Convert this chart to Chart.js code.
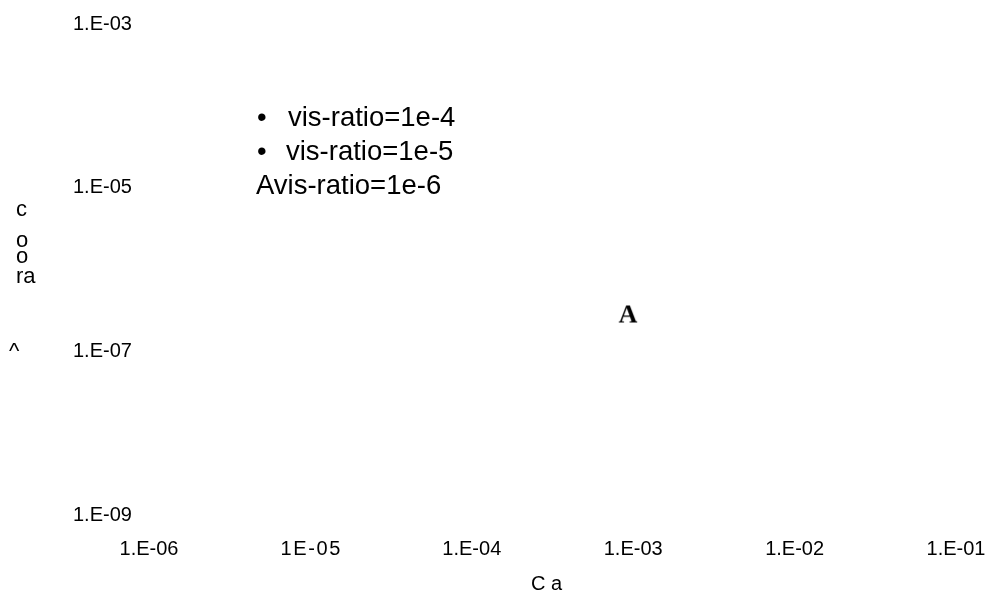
<!DOCTYPE html>
<html>
<head>
  <meta charset="utf-8" />
  <title>vis-ratio</title>
  <script src="https://cdn.jsdelivr.net/npm/chart.js"></script>
  <style>
    html, body { margin: 0; padding: 0; background: #fff; }
    #wrap { width: 986px; height: 608px; }
  </style>
</head>
<body>
  <div id="wrap"><canvas id="chart"></canvas></div>

  <script>
    // axis ticks (log scales, decades)
    const xTicks = [1e-6, 1e-5, 1e-4, 1e-3, 1e-2, 1e-1];
    const xTickLabels = ['1.E-06', '1\u200AE\u200A-\u200A0\u200A5', '1.E-04', '1.E-03', '1.E-02', '1.E-01'];
    const yTicks = [1e-9, 1e-7, 1e-5, 1e-3];
    const yTickLabels = ['1.E-09', '1.E-07', '1.E-05', '1.E-03'];

    // series
    const seriesLabels = ['vis-ratio=1e-4', 'vis-ratio=1e-5', 'vis-ratio=1e-6'];
    const seriesGlyphs = ['\u2022', '\u2022', 'A'];
    const ratio4X = [];
    const ratio4Y = [];
    const ratio5X = [];
    const ratio5Y = [];
    const ratio6X = [9.3e-4];
    const ratio6Y = [2.9e-7];

    const xTitle = 'C a\u2009\u2009\u2009';
    const yTitleParts = ['c', 'o', 'o', 'ra', '^'];

    function toPoints(xs, ys) {
      return xs.map((x, i) => ({ x: x, y: ys[i] }));
    }

    // glyph marker for the 1e-6 series
    function glyphMarker(ch) {
      const c = document.createElement('canvas');
      c.width = 34; c.height = 34;
      const g = c.getContext('2d');
      g.fillStyle = '#000';
      g.font = 'bold 26px "Liberation Serif", "Times New Roman", serif';
      g.textAlign = 'center';
      g.textBaseline = 'alphabetic';
      g.fillText(ch, 17, 26);
      return c;
    }

    // legend + stacked y title, drawn as plain text
    const textPlugin = {
      id: 'textBits',
      afterDraw(chart) {
        const ctx = chart.ctx;
        ctx.save();
        ctx.fillStyle = '#000';
        ctx.textBaseline = 'middle';
        ctx.textAlign = 'left';
        ctx.font = '27.5px "Liberation Sans", Arial, sans-serif';
        const rows = [
          { gx: 257, tx: 288, y: 118 },
          { gx: 257, tx: 286, y: 152 },
          { gx: 256, tx: null, y: 186 }
        ];
        chart.data.datasets.forEach((ds, i) => {
          const r = rows[i];
          if (r.tx === null) {
            ctx.fillText(seriesGlyphs[i] + ds.label, r.gx, r.y);
          } else {
            ctx.fillText(seriesGlyphs[i], r.gx, r.y);
            ctx.fillText(ds.label, r.tx, r.y);
          }
        });

        ctx.font = '22px "Liberation Sans", Arial, sans-serif';
        ctx.textBaseline = 'alphabetic';
        const yPos = [
          { x: 16, y: 216 },
          { x: 16, y: 247 },
          { x: 16, y: 263 },
          { x: 16, y: 283 },
          { x: 9, y: 358 }
        ];
        yTitleParts.forEach((t, i) => ctx.fillText(t, yPos[i].x, yPos[i].y));
        ctx.restore();
      }
    };

    const tickFont = { family: '"Liberation Sans", Arial, sans-serif', size: 20 };

    new Chart(document.getElementById('chart'), {
      type: 'scatter',
      data: {
        datasets: [
          { label: seriesLabels[0], data: toPoints(ratio4X, ratio4Y), pointStyle: 'circle', pointRadius: 3, backgroundColor: '#000', borderColor: '#000' },
          { label: seriesLabels[1], data: toPoints(ratio5X, ratio5Y), pointStyle: 'circle', pointRadius: 3, backgroundColor: '#000', borderColor: '#000' },
          { label: seriesLabels[2], data: toPoints(ratio6X, ratio6Y), pointStyle: glyphMarker(seriesGlyphs[2]), pointRadius: 13 }
        ]
      },
      options: {
        responsive: true,
        maintainAspectRatio: false,
        animation: false,
        layout: { padding: { left: 73, right: 30, top: 24, bottom: 0 } },
        plugins: {
          legend: { display: false },
          tooltip: { enabled: false }
        },
        scales: {
          x: {
            type: 'logarithmic',
            min: 1e-6,
            max: 1e-1,
            grid: { display: false, drawTicks: false },
            border: { display: false },
            afterBuildTicks: (s) => { s.ticks = xTicks.map(v => ({ value: v })); },
            afterFit: (s) => { s.height = 93; s.paddingLeft = 0; s.paddingRight = 0; },
            ticks: {
              color: '#000',
              font: tickFont,
              padding: 22,
              maxRotation: 0,
              autoSkip: false,
              callback: (v) => xTickLabels[xTicks.findIndex(t => Math.abs(Math.log10(t) - Math.log10(v)) < 1e-6)]
            },
            title: {
              display: true,
              text: xTitle,
              color: '#000',
              font: { family: '"Liberation Sans", Arial, sans-serif', size: 20 },
              padding: { top: 0, bottom: 12 }
            }
          },
          y: {
            type: 'logarithmic',
            min: 1e-9,
            max: 1e-3,
            grid: { display: false, drawTicks: false },
            border: { display: false },
            afterBuildTicks: (s) => { s.ticks = yTicks.map(v => ({ value: v })); },
            afterFit: (s) => { s.width = 76; s.paddingTop = 0; s.paddingBottom = 0; },
            ticks: {
              color: '#000',
              font: tickFont,
              crossAlign: 'far',
              autoSkip: false,
              callback: (v) => yTickLabels[yTicks.findIndex(t => Math.abs(Math.log10(t) - Math.log10(v)) < 1e-6)]
            }
          }
        }
      },
      plugins: [textPlugin]
    });
  </script>
</body>
</html>
